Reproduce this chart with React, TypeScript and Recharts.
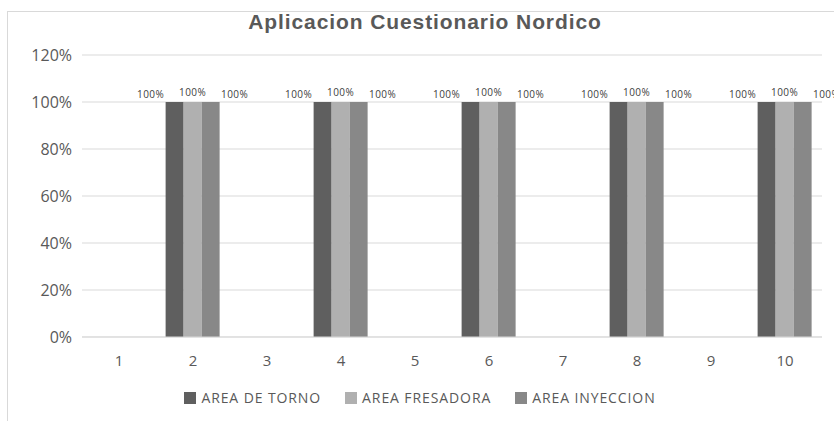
import { Bar, BarChart, CartesianGrid, LabelList, Legend, XAxis, YAxis } from "recharts";

const categories = ["1", "2", "3", "4", "5", "6", "7", "8", "9", "10"];
const torno = [null, 1, null, 1, null, 1, null, 1, null, 1];
const fresadora = [null, 1, null, 1, null, 1, null, 1, null, 1];
const inyeccion = [null, 1, null, 1, null, 1, null, 1, null, 1];
const yTicks = [0, 0.2, 0.4, 0.6, 0.8, 1, 1.2];

const series = [
  { key: "torno", name: "AREA DE TORNO", color: "#5f5f5f", dx: -24, dy: -4 },
  { key: "fresadora", name: "AREA FRESADORA", color: "#b0b0b0", dx: 0, dy: -6 },
  { key: "inyeccion", name: "AREA INYECCION", color: "#888888", dx: 24, dy: -4 },
];

const data = categories.map((c, i) => ({
  cat: c,
  torno: torno[i],
  fresadora: fresadora[i],
  inyeccion: inyeccion[i],
}));

const pct = (v: number) => `${Math.round(v * 100)}%`;
const font = "'Open Sans', 'Liberation Sans', sans-serif";

const makeLabel = (dx: number, dy: number) => (props: any) => {
  const { x, y, width, value } = props;
  if (value == null) return null;
  return (
    <text x={x + width / 2 + dx} y={y + dy} textAnchor="middle" fontSize={10} letterSpacing={0.4} fill="#404040" fontFamily={font}>
      {pct(value)}
    </text>
  );
};

const LegendContent = () => (
  <div style={{ display: "flex", justifyContent: "center", gap: 24, fontFamily: font, fontSize: 14, letterSpacing: 0.9, color: "#595959", paddingLeft: 6 }}>
    {series.map((s) => (
      <div key={s.key} style={{ display: "flex", alignItems: "center", gap: 5 }}>
        <span style={{ width: 12, height: 12, background: s.color, display: "inline-block" }} />
        <span>{s.name}</span>
      </div>
    ))}
  </div>
);

export default function App() {
  return (
    <div style={{ position: "absolute", left: 0, top: 0, width: 834, height: 421, background: "#fff" }}>
      <div style={{ position: "absolute", left: 7, top: 11, right: 0, bottom: 0, borderLeft: "1px solid #d9d9d9", borderTop: "1px solid #d9d9d9" }} />
      <div style={{ position: "absolute", left: 0, top: 10, width: 850, textAlign: "center", fontFamily: "'Liberation Sans', Arial, sans-serif", fontWeight: "bold", fontSize: 21, letterSpacing: 0.9, color: "#595959" }}>
        Aplicacion Cuestionario Nordico
      </div>
      <div style={{ position: "absolute", left: 0, top: 0 }}>
        <BarChart width={834} height={421} data={data} margin={{ top: 55, right: 12, bottom: 0, left: 0 }} barCategoryGap="13%" barGap={0}>
          <CartesianGrid vertical={false} stroke="#d9d9d9" />
          <XAxis dataKey="cat" axisLine={{ stroke: "#d9d9d9" }} tickLine={false} tickMargin={12} height={30} tick={{ fill: "#595959", fontSize: 15, fontFamily: font }} />
          <YAxis width={82} domain={[0, 1.2]} ticks={yTicks} tickFormatter={pct} axisLine={false} tickLine={false} tickMargin={4} tick={{ fill: "#595959", fontSize: 16, fontFamily: font }} />
          <Legend verticalAlign="bottom" height={54} wrapperStyle={{ top: 388, left: 0, width: 834 }} content={<LegendContent />} />
          {series.map((s) => (
            <Bar key={s.key} dataKey={s.key} name={s.name} fill={s.color} isAnimationActive={false}>
              <LabelList dataKey={s.key} content={makeLabel(s.dx, s.dy)} />
            </Bar>
          ))}
        </BarChart>
      </div>
    </div>
  );
}
